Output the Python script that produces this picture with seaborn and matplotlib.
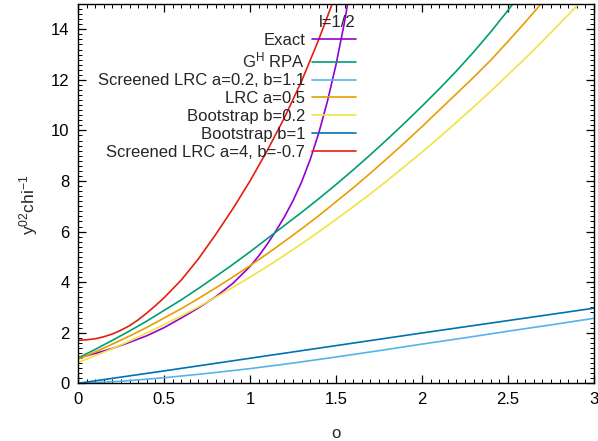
import matplotlib.pyplot as plt
import seaborn as sns
import pandas as pd
from matplotlib.ticker import MultipleLocator

# curves (o on x, y^02 chi^-1 on y)
o_exact = [0, 0.1, 0.2, 0.3, 0.4, 0.5, 0.6, 0.7, 0.8, 0.9, 1.0, 1.05, 1.1, 1.15, 1.2, 1.25, 1.3, 1.35, 1.4, 1.45, 1.5, 1.55, 1.6]
y_exact = [1.0, 1.18, 1.38, 1.62, 1.88, 2.2, 2.58, 2.98, 3.42, 3.95, 4.62, 5.03, 5.5, 6.02, 6.58, 7.22, 7.96, 8.85, 9.9, 11.15, 12.6, 14.3, 16.3]

o_rpa = [0, 0.1, 0.2, 0.3, 0.4, 0.5, 0.6, 0.7, 0.8, 0.9, 1.0, 1.1, 1.2, 1.3, 1.4, 1.5, 1.6, 1.7, 1.8, 1.9, 2.0, 2.1, 2.2, 2.3, 2.4, 2.5, 2.6]
y_rpa = [1.0, 1.34, 1.70, 2.07, 2.46, 2.88, 3.30, 3.75, 4.22, 4.70, 5.20, 5.72, 6.24, 6.76, 7.30, 7.86, 8.44, 9.04, 9.66, 10.30, 10.96, 11.64, 12.35, 13.10, 13.90, 14.75, 15.65]

o_slrc1 = [0, 0.25, 0.5, 0.75, 1.0, 1.25, 1.5, 1.75, 2.0, 2.25, 2.5, 2.75, 3.0]
y_slrc1 = [0.0, 0.08, 0.22, 0.39, 0.58, 0.8, 1.04, 1.29, 1.55, 1.8, 2.06, 2.31, 2.57]

o_lrc = [0, 0.1, 0.2, 0.3, 0.4, 0.5, 0.6, 0.7, 0.8, 0.9, 1.0, 1.1, 1.2, 1.3, 1.4, 1.5, 1.6, 1.7, 1.8, 1.9, 2.0, 2.1, 2.2, 2.3, 2.4, 2.5, 2.6, 2.7, 2.8]
y_lrc = [0.95, 1.24, 1.55, 1.87, 2.21, 2.58, 2.95, 3.35, 3.77, 4.20, 4.65, 5.12, 5.61, 6.11, 6.63, 7.18, 7.73, 8.31, 8.91, 9.52, 10.15, 10.80, 11.45, 12.10, 12.78, 13.52, 14.28, 15.07, 15.8]

o_boot02 = [0, 0.1, 0.2, 0.3, 0.4, 0.5, 0.6, 0.7, 0.8, 0.9, 1.0, 1.1, 1.2, 1.3, 1.4, 1.5, 1.6, 1.7, 1.8, 1.9, 2.0, 2.1, 2.2, 2.3, 2.4, 2.5, 2.6, 2.7, 2.8, 2.9, 3.0]
y_boot02 = [0.82, 1.09, 1.37, 1.67, 1.99, 2.32, 2.66, 3.02, 3.40, 3.79, 4.20, 4.62, 5.06, 5.52, 5.99, 6.48, 6.98, 7.49, 8.03, 8.58, 9.14, 9.72, 10.32, 10.93, 11.55, 12.20, 12.85, 13.53, 14.22, 14.92, 15.64]

o_boot1 = [0, 0.5, 1.0, 1.5, 2.0, 2.5, 3.0]
y_boot1 = [0.0, 0.49, 0.99, 1.49, 1.99, 2.48, 2.97]

o_slrc4 = [0, 0.05, 0.1, 0.15, 0.2, 0.25, 0.3, 0.35, 0.4, 0.45, 0.5, 0.6, 0.7, 0.8, 0.9, 1.0, 1.1, 1.2, 1.3, 1.4, 1.5]
y_slrc4 = [1.70, 1.72, 1.76, 1.84, 1.95, 2.10, 2.28, 2.51, 2.78, 3.07, 3.38, 4.08, 4.92, 5.88, 6.9, 8.0, 9.2, 10.5, 11.95, 13.6, 15.4]

series = [
    ("Exact", o_exact, y_exact, "#9400d3"),
    (r"G$\mathregular{^{H}}$ RPA", o_rpa, y_rpa, "#009e73"),
    ("Screened LRC a=0.2, b=1.1", o_slrc1, y_slrc1, "#56b4e9"),
    ("LRC a=0.5", o_lrc, y_lrc, "#e69f00"),
    ("Bootstrap b=0.2", o_boot02, y_boot02, "#f0e442"),
    ("Bootstrap b=1", o_boot1, y_boot1, "#0072b2"),
    ("Screened LRC a=4, b=-0.7", o_slrc4, y_slrc4, "#e51e10"),
]

sns.set_style("ticks")
plt.rcParams['font.family'] = ['Liberation Sans', 'DejaVu Sans']
plt.rcParams['mathtext.fontset'] = 'custom'
plt.rcParams['mathtext.rm'] = 'Liberation Sans'
plt.rcParams['axes.edgecolor'] = 'black'
plt.rcParams['xtick.color'] = 'black'
plt.rcParams['ytick.color'] = 'black'

fig = plt.figure(figsize=(5.98, 4.41), dpi=100)
ax = fig.add_axes([78 / 598, 1 - 383.3 / 441, (594 - 78) / 598, (383.3 - 4) / 441])

for label, xs, ys, color in series:
    df = pd.DataFrame({"o": xs, "y": ys})
    sns.lineplot(data=df, x="o", y="y", ax=ax, label=label, color=color, linewidth=1.2)

ax.set_xlim(0, 3)
ax.set_ylim(0, 15)
ax.xaxis.set_major_locator(MultipleLocator(0.5))
ax.xaxis.set_minor_locator(MultipleLocator(0.05))
ax.yaxis.set_major_locator(MultipleLocator(2))
ax.yaxis.set_minor_locator(MultipleLocator(0.2))
ax.xaxis.set_major_formatter(plt.FuncFormatter(lambda v, p: f"{v:g}"))
ax.tick_params(which='both', direction='in', top=True, right=True, labelsize=12)
ax.tick_params(which='major', length=6, width=0.9, pad=6)
ax.tick_params(which='minor', length=3, width=0.7)
for s in ax.spines.values():
    s.set_linewidth(1.0)

ax.set_xlabel("o", fontsize=12, labelpad=14)
ax.set_ylabel(r"$\mathregular{y^{02}chi^{-1}}$", fontsize=12.5)
ax.yaxis.set_label_coords(-0.073, 0.47)

ax.legend(title="l=1/2", loc="upper right", bbox_to_anchor=(356 / 598, 1 - 15 / 441),
          bbox_transform=fig.transFigure, frameon=False, markerfirst=False,
          alignment="right", fontsize=12, title_fontsize=12, handlelength=2.65,
          handletextpad=0.4, labelspacing=0.17, borderpad=0, borderaxespad=0)

fig.savefig("out.png", dpi=100)
